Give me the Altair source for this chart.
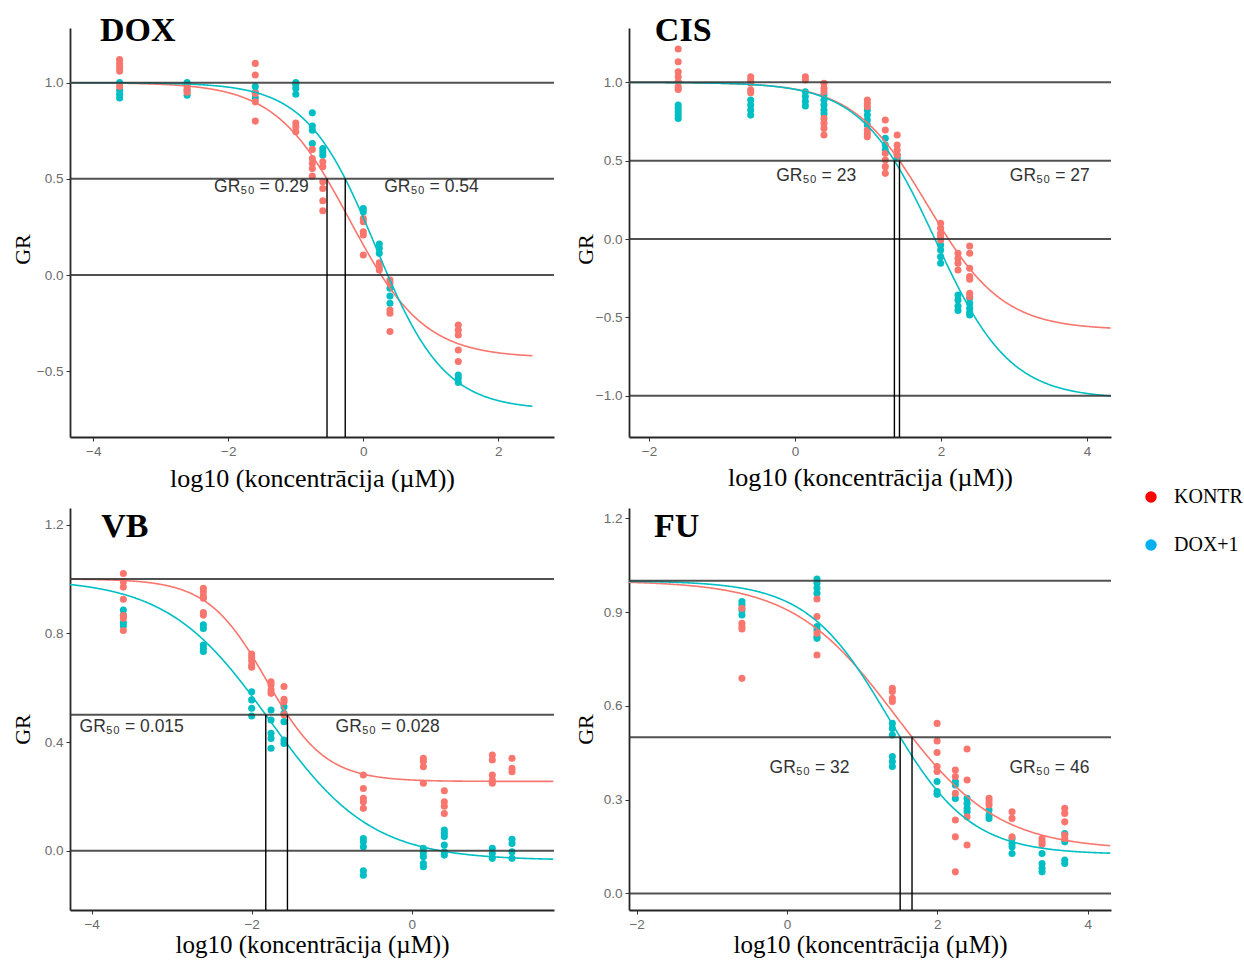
import numpy as np
import pandas as pd
import altair as alt

GROUPS = ["KONTR", "DOX+1"]
PT_COLORS = ["#F8766D", "#00BFC4"]
LEGEND_COLORS = ["#FF0000", "#00B0F0"]
XTITLE = "log10 (koncentrācija (µM))"

# ---------------- DOX ----------------
DOX_LOGC = [-3.61, -2.61, -1.60, -1.00, -0.755, -0.60, 0.0, 0.237, 0.395, 1.407]
DOX_KONTR = [
    [1.12, 1.10, 1.08, 1.06, 0.98],
    [0.98, 0.965, 0.95],
    [1.10, 1.04, 0.944, 0.90, 0.80],
    [0.79, 0.77, 0.745],
    [0.653, 0.606, 0.58, 0.554, 0.514],
    [0.589, 0.563, 0.485, 0.45, 0.386, 0.334],
    [0.294, 0.277, 0.225, 0.208, 0.104],
    [0.064, 0.043, 0.026],
    [-0.026, -0.043, -0.182, -0.199, -0.294],
    [-0.26, -0.286, -0.312, -0.39, -0.45],
]
DOX_DOX1 = [
    [1.00, 0.96, 0.94, 0.92],
    [1.00, 0.96, 0.935],
    [0.98, 0.95, 0.92],
    [1.00, 0.99, 0.97, 0.94],
    [0.843, 0.774, 0.753, 0.684],
    [0.658, 0.64, 0.623],
    [0.346, 0.329],
    [0.161, 0.139, 0.113],
    [-0.069, -0.109, -0.147],
    [-0.52, -0.537, -0.559],
]
DOX_GRINF = [-0.43, -0.70]
DOX_HILL = [0.79, 0.85]
DOX_LOGEC = [-0.20, 0.18]
DOX_GR50 = [0.29, 0.54]

# ---------------- CIS ----------------
CIS_LOGC = [-1.60, -0.607, 0.142, 0.397, 0.991, 1.237, 1.40, 1.995, 2.233, 2.393]
CIS_KONTR = [
    [1.213, 1.132, 1.068, 1.036, 1.004, 0.972, 0.955],
    [1.036, 1.015, 0.994, 0.951, 0.934],
    [1.036, 1.015],
    [0.994, 0.962, 0.94, 0.77, 0.738, 0.706, 0.664],
    [0.887, 0.866, 0.845, 0.696, 0.674, 0.653],
    [0.76, 0.696, 0.547, 0.504, 0.462, 0.419],
    [0.664, 0.60, 0.568, 0.536],
    [0.10, 0.068, 0.036, 0.015, -0.006],
    [-0.091, -0.123, -0.155, -0.198],
    [-0.045, -0.091, -0.187, -0.24, -0.257, -0.347, -0.368],
]
CIS_DOX1 = [
    [0.855, 0.834, 0.813, 0.791, 0.77],
    [0.887, 0.855, 0.823, 0.791],
    [0.94, 0.909, 0.877, 0.849],
    [0.919, 0.887, 0.855, 0.823, 0.80],
    [0.823, 0.791, 0.76, 0.728],
    [0.643, 0.60, 0.568],
    [0.536, 0.515],
    [-0.038, -0.07, -0.113, -0.155],
    [-0.357, -0.389, -0.428, -0.457],
    [-0.379, -0.411, -0.443, -0.47, -0.485],
]
CIS_GRINF = [-0.58, -1.02]
CIS_HILL = [0.85, 0.854]
CIS_LOGEC = [1.824, 1.927]
CIS_GR50 = [27, 23]

# ---------------- VB ----------------
VB_LOGC = [-3.604, -2.604, -2.0, -1.758, -1.596, -0.604, 0.146, 0.408, 1.008, 1.254]
VB_KONTR = [
    [1.02, 0.99, 0.97, 0.925, 0.865, 0.855, 0.81],
    [0.966, 0.953, 0.937, 0.929, 0.876, 0.867],
    [0.724, 0.712, 0.699, 0.683, 0.675],
    [0.622, 0.61, 0.591, 0.579],
    [0.604, 0.557, 0.548, 0.50],
    [0.279, 0.229, 0.193, 0.18, 0.156],
    [0.34, 0.328, 0.309, 0.248],
    [0.221, 0.18, 0.164, 0.137],
    [0.352, 0.334, 0.279, 0.26, 0.248],
    [0.34, 0.303, 0.291],
]
VB_DOX1 = [
    [0.886, 0.867, 0.839, 0.827],
    [0.831, 0.818, 0.757, 0.745, 0.733],
    [0.585, 0.555, 0.524, 0.496],
    [0.518, 0.481, 0.432, 0.413, 0.377],
    [0.53, 0.506, 0.475, 0.407, 0.395],
    [0.045, 0.033, 0.015, -0.074, -0.09],
    [0.009, -0.007, -0.022, -0.047, -0.059],
    [0.076, 0.064, 0.052, 0.021, -0.004, -0.016],
    [0.009, -0.01, -0.028],
    [0.042, 0.027, -0.004, -0.028],
]
VB_GRINF = [0.255, -0.035]
VB_HILL = [1.18, 0.68]
VB_LOGEC = [-1.815, -1.781]
VB_GR50 = [0.028, 0.015]

# ---------------- FU ----------------
FU_LOGC = [-0.599, 0.399, 1.401, 1.996, 2.239, 2.395, 2.687, 2.993, 3.392, 3.694]
FU_KONTR = [
    [0.912, 0.864, 0.854, 0.846, 0.688],
    [0.942, 0.886, 0.832, 0.763],
    [0.656, 0.646, 0.624, 0.614],
    [0.544, 0.488, 0.451, 0.406, 0.39],
    [0.395, 0.374, 0.32, 0.235, 0.181, 0.069],
    [0.462, 0.363, 0.245, 0.155],
    [0.304, 0.293, 0.283],
    [0.261, 0.24, 0.181],
    [0.176, 0.165, 0.157],
    [0.272, 0.256, 0.229, 0.187, 0.176],
]
FU_DOX1 = [
    [0.934, 0.923, 0.907, 0.891],
    [1.006, 0.993, 0.977, 0.96, 0.854, 0.843, 0.822, 0.816],
    [0.544, 0.528, 0.507, 0.438, 0.422, 0.406],
    [0.358, 0.326, 0.317],
    [0.358, 0.347, 0.304],
    [0.304, 0.288, 0.272, 0.261],
    [0.267, 0.251, 0.24],
    [0.176, 0.16, 0.149, 0.128],
    [0.128, 0.096, 0.08, 0.069],
    [0.192, 0.165, 0.107, 0.096],
]
FU_GRINF = [0.14, 0.125]
FU_HILL = [0.637, 0.80]
FU_LOGEC = [1.439, 1.349]
FU_GR50 = [46, 32]


def fmt(v):
    return f"{v:g}"


def panel(name, logc, kontr, dox1, grinf, hill, logec, gr50, gr50_text_x, gr50_text_y,
          hlines, xdom, ydom, xticks, yticks, curve_x, title_xy, width, height,
          ytitle_x, xtitle_y, xtitle_size, legend=False):
    rows = []
    for c, kv, dv in zip(logc, kontr, dox1):
        for v in dv:
            rows.append({"x": c, "y": v, "grp": "DOX+1"})
        for v in kv:
            rows.append({"x": c, "y": v, "grp": "KONTR"})
    pts = pd.DataFrame(rows)

    xs = alt.Scale(domain=xdom, nice=False, zero=False)
    ys = alt.Scale(domain=ydom, nice=False, zero=False)
    X = alt.X("x:Q", scale=xs,
              axis=alt.Axis(values=xticks, format="d", title=XTITLE,
                            titleY=xtitle_y, titleBaseline="middle",
                            titleFontSize=xtitle_size))
    Y = alt.Y("y:Q", scale=ys,
              axis=alt.Axis(values=yticks, format=".1f", title="GR",
                            titleX=ytitle_x, titleY=221, titleBaseline="middle"))

    layers = []
    # points: DOX+1 first, KONTR on top
    for g, col in [("DOX+1", PT_COLORS[1]), ("KONTR", PT_COLORS[0])]:
        layers.append(
            alt.Chart(pts[pts.grp == g]).mark_circle(size=50, opacity=1, color=col)
            .encode(x=X, y=Y)
        )
    # fitted GR curves
    for i in range(2):
        a, h, L = grinf[i], hill[i], logec[i]
        expr = f"{a} + (1 - ({a})) / (1 + pow(10, {h} * (datum.x - ({L}))))"
        layers.append(
            alt.Chart(alt.sequence(curve_x[0], curve_x[1], 0.01, as_="x"))
            .transform_calculate(y=expr)
            .mark_line(color=PT_COLORS[i], strokeWidth=1.6)
            .encode(x=X, y=Y)
        )
    # horizontal reference lines
    layers.append(
        alt.Chart(pd.DataFrame({"y": hlines}))
        .mark_rule(color="#333333", strokeWidth=2, opacity=0.85)
        .encode(y=Y)
    )
    # vertical GR50 lines
    vdf = pd.DataFrame({"x": np.log10(gr50), "y": [0.5] * len(gr50), "y2": [ydom[0]] * len(gr50)})
    layers.append(
        alt.Chart(vdf).mark_rule(color="black", strokeWidth=1.4)
        .encode(x=X, y=Y, y2="y2:Q")
    )
    # GR50 labels
    ldf = pd.DataFrame({"x": gr50_text_x, "y": gr50_text_y,
                        "t": [f"GR₅₀ = {fmt(v)}" for v in sorted(gr50)]})
    layers.append(
        alt.Chart(ldf).mark_text(font="Liberation Sans", fontSize=17.5, color="#333333",
                                 align="center", baseline="middle")
        .encode(x=X, y=Y, text="t:N")
    )
    # panel title
    tdf = pd.DataFrame({"x": [title_xy[0]], "y": [title_xy[1]], "t": [name]})
    layers.append(
        alt.Chart(tdf).mark_text(font="Liberation Serif", fontSize=34, fontWeight="bold",
                                 color="black", align="left", baseline="alphabetic")
        .encode(x=X, y=Y, text="t:N")
    )
    if legend:
        layers.append(
            alt.Chart(pts).mark_circle(opacity=0, size=50)
            .encode(
                x=X, y=Y,
                color=alt.Color(
                    "grp:N",
                    scale=alt.Scale(domain=GROUPS, range=LEGEND_COLORS),
                    legend=alt.Legend(
                        title=None, orient="none", legendX=1071, legendY=459,
                        labelFont="Liberation Serif", labelFontSize=20,
                        labelColor="black", symbolType="circle", symbolSize=130,
                        symbolOpacity=1, symbolStrokeWidth=0, rowPadding=28,
                        labelOffset=13, padding=0,
                    ),
                ),
            )
        )
    return alt.layer(*layers).properties(width=width, height=height)


dox = panel("DOX", DOX_LOGC, DOX_KONTR, DOX_DOX1, DOX_GRINF, DOX_HILL, DOX_LOGEC, DOX_GR50,
            [-1.51, 1.01], [0.457, 0.457], [0, 0.5, 1], [-4.345, 2.825], [-0.842, 1.284],
            [-4, -2, 0, 2], [-0.5, 0.0, 0.5, 1.0], [-4.345, 2.51], [-3.90, 1.217],
            484, 409, -48, 41, 26)
cis = panel("CIS", CIS_LOGC, CIS_KONTR, CIS_DOX1, CIS_GRINF, CIS_HILL, CIS_LOGEC, CIS_GR50,
            [0.29, 3.49], [0.40, 0.40], [-1, 0, 0.5, 1], [-2.274, 4.329], [-1.264, 1.347],
            [-2, 0, 2, 4], [-1.0, -0.5, 0.0, 0.5, 1.0], [-2.274, 4.329], [-1.92, 1.264],
            482, 409, -44, 40, 26)
vb = panel("VB", VB_LOGC, VB_KONTR, VB_DOX1, VB_GRINF, VB_HILL, VB_LOGEC, VB_GR50,
           [-3.50, -0.30], [0.455, 0.455], [0, 0.5, 1], [-4.271, 1.779], [-0.218, 1.261],
           [-4, -2, 0], [0.0, 0.4, 0.8, 1.2], [-4.271, 1.779], [-3.88, 1.155],
           484, 402, -48, 34, 25)
fu = panel("FU", FU_LOGC, FU_KONTR, FU_DOX1, FU_GRINF, FU_HILL, FU_LOGEC, FU_GR50,
           [0.30, 3.49], [0.40, 0.40], [0, 0.5, 1], [-2.101, 4.309], [-0.053, 1.233],
           [-2, 0, 2, 4], [0.0, 0.3, 0.6, 0.9, 1.2], [-2.101, 4.309], [-1.77, 1.14],
           482, 402, -44, 34, 25, legend=True)

chart = (
    alt.concat(dox, cis, vb, fu, columns=2, spacing={"row": 71, "column": 75},
               bounds="flush", align="each")
    .properties(padding={"left": 10, "top": 13, "right": 0, "bottom": 0})
    .configure_view(stroke="transparent")
    .configure_axis(
        grid=False,
        domainColor="#262626", domainWidth=1.8,
        tickColor="#333333", tickSize=4, tickWidth=1,
        labelColor="#6b6b6b", labelFont="Liberation Sans", labelFontSize=13.5,
        labelPadding=3,
        titleFont="Liberation Serif", titleFontWeight="normal", titleColor="black",
    )
    .configure_axisY(titleFontSize=22)
)

chart.save("out.html", embed_options={"renderer": "svg", "actions": False})
